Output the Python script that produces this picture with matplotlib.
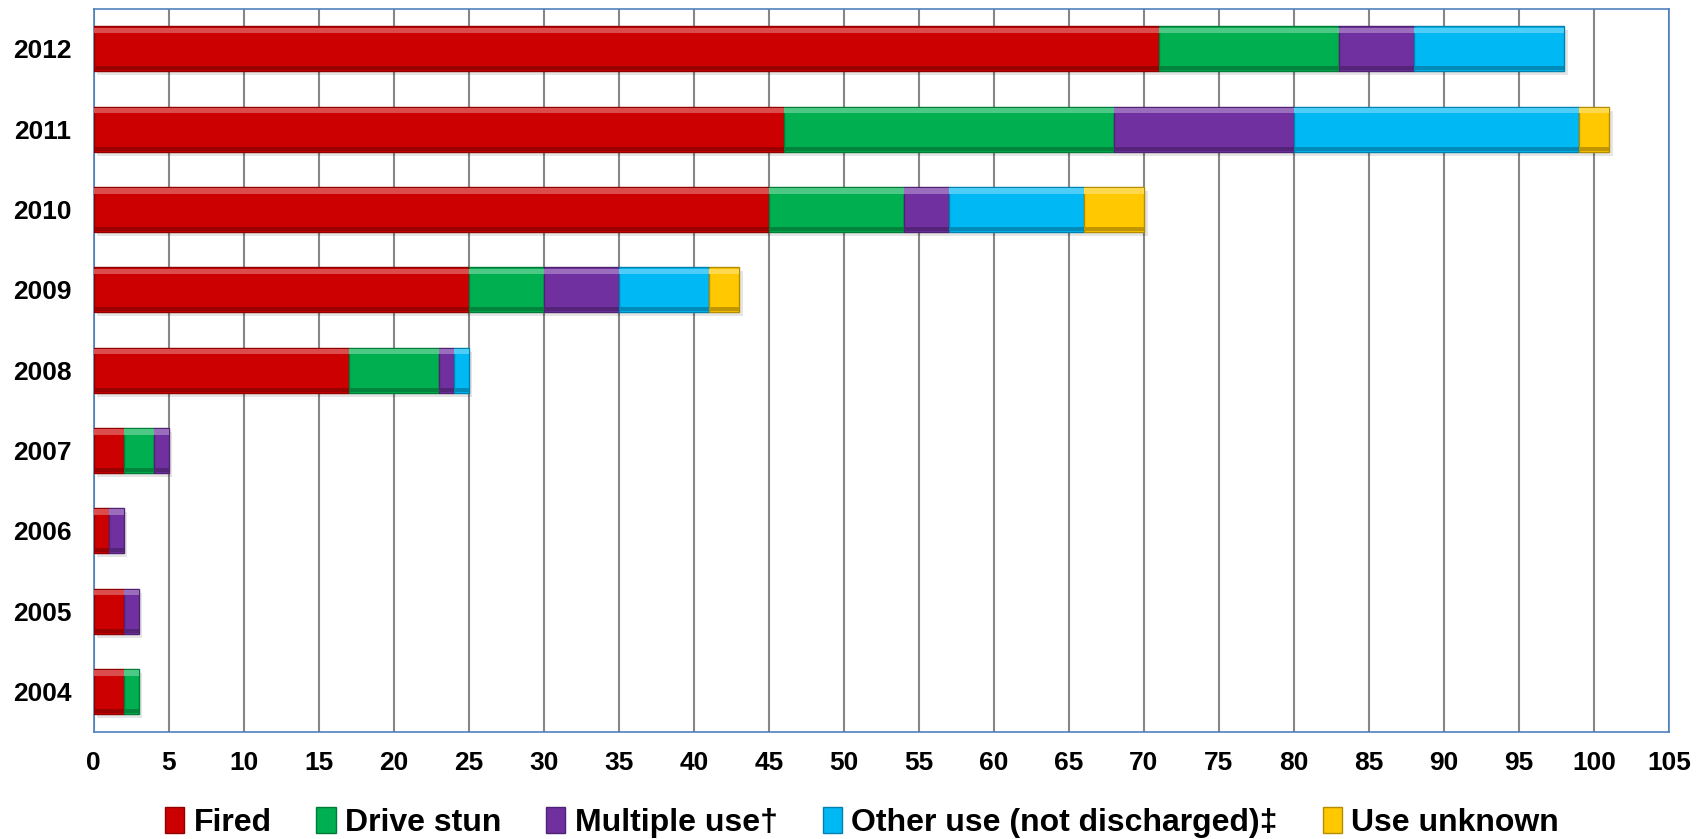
import numpy as np
import matplotlib
matplotlib.use("Agg")
import matplotlib.pyplot as plt
from matplotlib.colors import to_rgb
from matplotlib.patches import Patch


YEARS = ["2004", "2005", "2006", "2007", "2008", "2009", "2010", "2011", "2012"]

FIRED = [2, 2, 1, 2, 17, 25, 45, 46, 71]
DRIVE_STUN = [1, 0, 0, 2, 6, 5, 9, 22, 12]
MULTIPLE_USE = [0, 1, 1, 1, 1, 5, 3, 12, 5]
OTHER_USE = [0, 0, 0, 0, 1, 6, 9, 19, 10]
USE_UNKNOWN = [0, 0, 0, 0, 0, 2, 4, 2, 0]

SERIES = [
    ("Fired", FIRED, "#CC0000"),
    ("Drive stun", DRIVE_STUN, "#00B050"),
    ("Multiple use\u2020", MULTIPLE_USE, "#7030A0"),
    ("Other use (not discharged)\u2021", OTHER_USE, "#00B8F4"),
    ("Use unknown", USE_UNKNOWN, "#FFC800"),
]

X_TICKS = list(range(0, 106, 5))

BAR_HEIGHT = 0.56
FONT = "Liberation Sans"


def shade(color, factor):
    r, g, b = to_rgb(color)
    if factor >= 1:
        f = factor - 1
        return (r + (1 - r) * f, g + (1 - g) * f, b + (1 - b) * f)
    return (r * factor, g * factor, b * factor)


def draw_bars(ax):
    y = np.arange(len(YEARS))
    left = np.zeros(len(YEARS))

    for label, values, color in SERIES:
        values = np.array(values, dtype=float)
        keep = values > 0
        yy, ww, ll = y[keep], values[keep], left[keep]

        # soft drop shadow
        ax.barh(yy - 0.05, ww, left=ll + 0.25, height=BAR_HEIGHT,
                color=(0, 0, 0, 0.10), linewidth=0, zorder=2)
        # main body
        ax.barh(yy, ww, left=ll, height=BAR_HEIGHT, color=color,
                edgecolor=shade(color, 0.7), linewidth=1.0, zorder=3)
        # bevel: light top strip, dark bottom strip
        ax.barh(yy + BAR_HEIGHT / 2 - 0.05, ww, left=ll, height=0.07,
                color=shade(color, 1.3), linewidth=0, zorder=4)
        ax.barh(yy - BAR_HEIGHT / 2 + 0.035, ww, left=ll, height=0.05,
                color=shade(color, 0.75), linewidth=0, zorder=4)

        left += values


def format_axis(ax):
    ax.set_xlim(0, 105)
    ax.set_ylim(-0.5, len(YEARS) - 0.5)

    ax.set_xticks(X_TICKS)
    ax.set_xticklabels([str(t) for t in X_TICKS])
    ax.set_yticks(np.arange(len(YEARS)))
    ax.set_yticklabels(YEARS)

    ax.tick_params(axis="x", length=0, pad=14, labelsize=19)
    ax.tick_params(axis="y", length=0, pad=16, labelsize=19)

    for lab in ax.get_xticklabels() + ax.get_yticklabels():
        lab.set_fontweight("bold")
        lab.set_family(FONT)

    ax.grid(axis="x", color="#868686", linewidth=1.5, zorder=0)
    ax.set_axisbelow(True)

    for spine in ax.spines.values():
        spine.set_color("#4F81BD")
        spine.set_linewidth(1.2)


def add_legend(fig):
    handles = [
        Patch(facecolor=color, edgecolor=shade(color, 0.7), linewidth=1.0,
              label=label)
        for label, _, color in SERIES
    ]
    fig.legend(
        handles=handles,
        loc="center",
        bbox_to_anchor=(0.505, 0.02),
        ncol=len(SERIES),
        frameon=False,
        handlelength=0.6,
        handleheight=0.9,
        handletextpad=0.3,
        columnspacing=1.4,
        prop={"family": FONT, "weight": "bold", "size": 23},
    )


def main():
    fig = plt.figure(figsize=(17.07, 8.39), dpi=100)
    ax = fig.add_axes([0.0548, 0.128, 0.9230, 0.8617])

    draw_bars(ax)
    format_axis(ax)
    add_legend(fig)

    fig.savefig("out.png", dpi=100)
    plt.close(fig)


if __name__ == "__main__":
    main()
